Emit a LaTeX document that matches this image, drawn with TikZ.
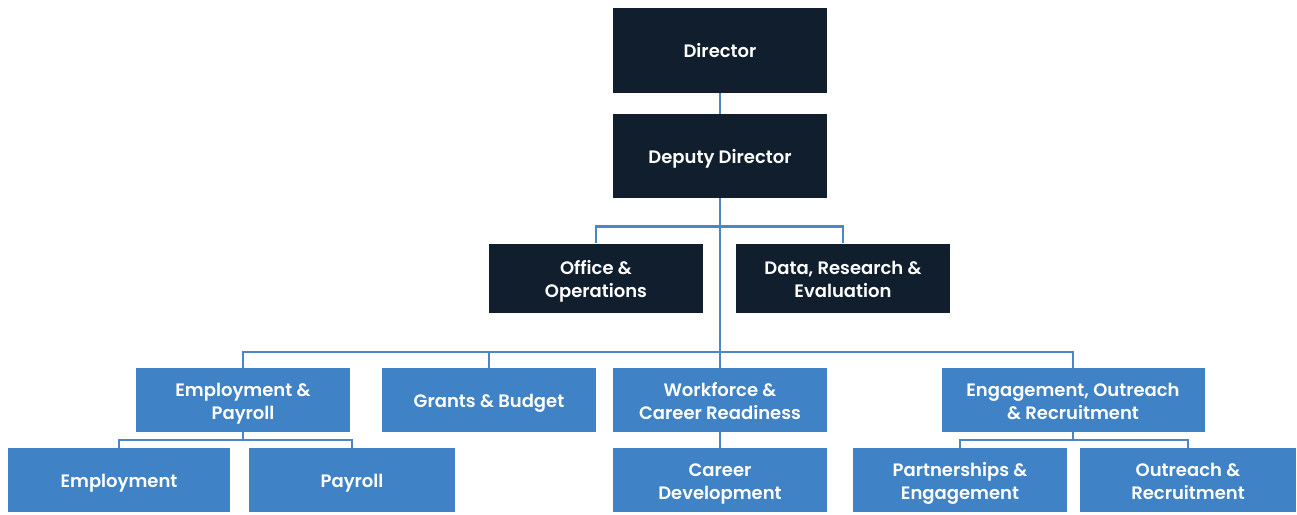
\documentclass[tikz,border=0pt]{standalone}
\usepackage{fontspec}
\setmainfont{Poppins}[UprightFont=* Medium, BoldFont=* SemiBold]
\definecolor{navy}{HTML}{101E2E}
\definecolor{midblue}{HTML}{3F82C5}
\definecolor{linkblue}{HTML}{4A86C8}
% riga alzata per centrare il testo
\newcommand\lift{\rule{0pt}{22pt}}
\tikzset{
  unitbox/.style={draw=none, inner sep=0pt, align=center, text=white,
    font=\fontsize{18}{23}\selectfont\bfseries, minimum width=214pt, minimum height=64pt},
  topbox/.style={unitbox, fill=navy},
  teambox/.style={unitbox, fill=midblue},
  link/.style={draw=linkblue, line width=2.5pt}
}
\begin{document}
\begin{tikzpicture}[x=1pt, y=-1pt]
      \useasboundingbox (0,0) rectangle (1297,514);

      % Direzione
      \node[topbox, minimum height=85pt] (dir) at (720,50) {\lift Director\strut};
      \node[topbox, minimum height=84pt] (dep) at (720,156) {\lift Deputy Director\strut};

      % Uffici di staff
      \node[topbox, minimum height=69pt] (office) at (596,278) {\lift Office \&\\Operations\strut};
      \node[topbox, minimum height=69pt] (data) at (843,278) {\lift Data, Research \&\\Evaluation\strut};

      % Reparti
      \node[teambox] (emppay) at (243,400) {\lift Employment \&\\Payroll\strut};
      \node[teambox] (grants) at (489,400) {\lift Grants \& Budget\strut};
      \node[teambox] (work) at (720,400) {\lift Workforce \&\\Career Readiness\strut};
      \node[teambox, minimum width=263pt] (engage) at (1073,400) {\lift Engagement, Outreach\\\& Recruitment\strut};

      % Gruppi
      \node[teambox, minimum width=222pt] (employ) at (119,480) {\lift Employment\strut};
      \node[teambox, minimum width=206pt] (payroll) at (352,480) {\lift Payroll\strut};
      \node[teambox] (career) at (720,480) {\lift Career\\Development\strut};
      \node[teambox] (partner) at (960,480) {\lift Partnerships \&\\Engagement\strut};
      \node[teambox, minimum width=216pt] (outreach) at (1188,480) {\lift Outreach \&\\Recruitment\strut};

      % Collegamenti
      \begin{scope}[on background layer/.try]
      \draw[link] (dir) -- (dep);
      \draw[link] (dep) -- (work);
      \draw[link] (office.north) -- ++(0,-17) -| (data.north);
      \draw[link] (emppay.north) -- ++(0,-16) -| (engage.north);
      \draw[link] (grants.north) -- ++(0,-16);
      \draw[link] (emppay.south) -- ++(0,8);
      \draw[link] (employ.north) -- ++(0,-8) -| (payroll.north);
      \draw[link] (work) -- (career);
      \draw[link] (engage.south) -- ++(0,8);
      \draw[link] (partner.north) -- ++(0,-8) -| (outreach.north);
      \end{scope}
    \end{tikzpicture}
\end{document}
